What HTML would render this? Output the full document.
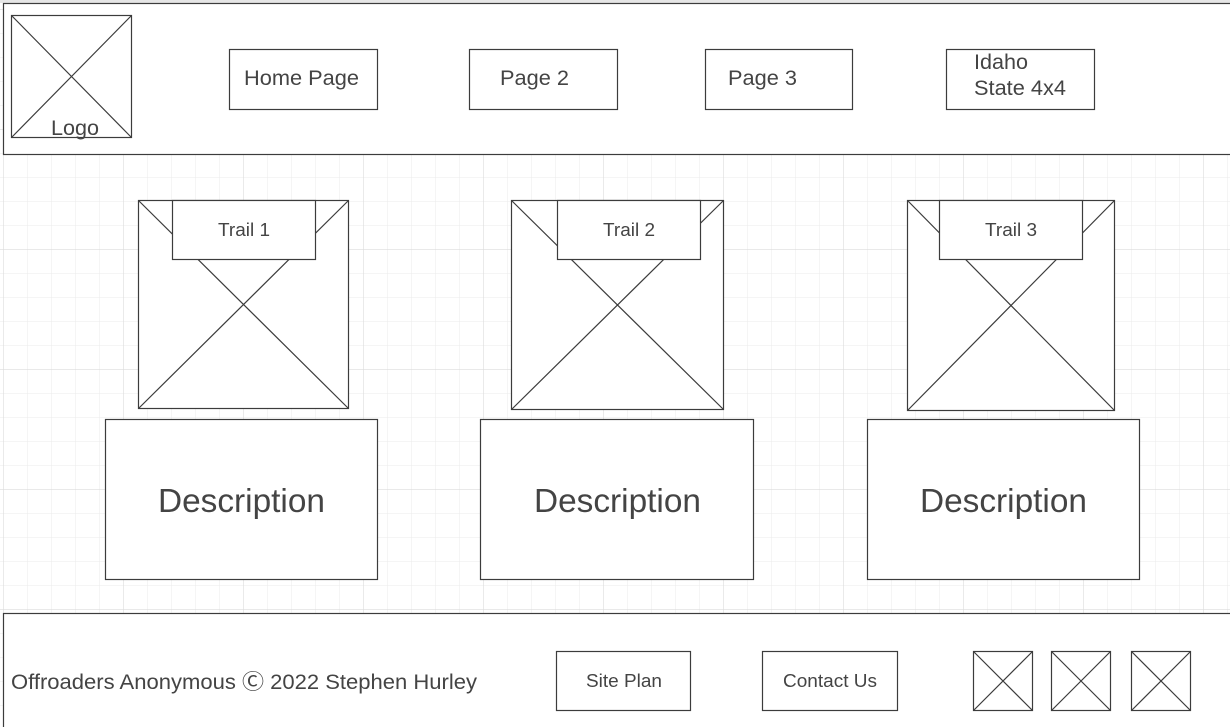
<!DOCTYPE html>
<html><head><meta charset="utf-8"><style>
html,body{margin:0;padding:0;background:#fff;}
svg{display:block;font-family:"Liberation Sans",sans-serif;}
</style></head><body>
<svg width="1230" height="727" viewBox="0 0 1230 727" xmlns="http://www.w3.org/2000/svg">
<defs>
<pattern id="minor" x="3" y="9" width="24" height="24" patternUnits="userSpaceOnUse">
<path d="M0 0H24M0 0V24" stroke="#ebebeb" stroke-width="1" fill="none"/>
</pattern>
<pattern id="major" x="3" y="9" width="120" height="120" patternUnits="userSpaceOnUse">
<path d="M0 0H120M0 0V120" stroke="#dcdcdc" stroke-width="1.2" fill="none"/>
</pattern>
</defs>
<rect width="1230" height="727" fill="#fff"/>
<rect width="1230" height="727" fill="url(#minor)"/>
<rect width="1230" height="727" fill="url(#major)"/>
<rect width="1230" height="3" fill="#e6e6e6"/>
<g stroke="#3c3c3c" stroke-width="1.2" fill="#fff">
<rect x="3.5" y="3.5" width="1240" height="151"/>
<rect x="3.5" y="613.5" width="1240" height="130"/>
<rect x="11.5" y="15.5" width="120" height="122"/>
<path d="M11.5 15.5L131.5 137.5M131.5 15.5L11.5 137.5" fill="none"/>
<rect x="229.5" y="49.5" width="148" height="60"/>
<rect x="469.5" y="49.5" width="148" height="60"/>
<rect x="705.5" y="49.5" width="147" height="60"/>
<rect x="946.5" y="49.5" width="148" height="60"/>
<rect x="138.5" y="200.5" width="210" height="208"/>
<path d="M138.5 200.5L348.5 408.5M348.5 200.5L138.5 408.5" fill="none"/>
<rect x="172.5" y="200.5" width="143" height="59"/>
<rect x="511.5" y="200.5" width="212" height="209"/>
<path d="M511.5 200.5L723.5 409.5M723.5 200.5L511.5 409.5" fill="none"/>
<rect x="557.5" y="200.5" width="143" height="59"/>
<rect x="907.5" y="200.5" width="207" height="210"/>
<path d="M907.5 200.5L1114.5 410.5M1114.5 200.5L907.5 410.5" fill="none"/>
<rect x="939.5" y="200.5" width="143" height="59"/>
<rect x="105.5" y="419.5" width="272" height="160"/>
<rect x="480.5" y="419.5" width="273" height="160"/>
<rect x="867.5" y="419.5" width="272" height="160"/>
<rect x="556.5" y="651.5" width="134" height="59"/>
<rect x="762.5" y="651.5" width="135" height="59"/>
<rect x="973.5" y="651.5" width="59" height="59"/>
<path d="M973.5 651.5L1032.5 710.5M1032.5 651.5L973.5 710.5" fill="none"/>
<rect x="1051.5" y="651.5" width="59" height="59"/>
<path d="M1051.5 651.5L1110.5 710.5M1110.5 651.5L1051.5 710.5" fill="none"/>
<rect x="1131.5" y="651.5" width="59" height="59"/>
<path d="M1131.5 651.5L1190.5 710.5M1190.5 651.5L1131.5 710.5" fill="none"/>
</g>
<g fill="#444">
<text x="51" y="135" font-size="21" textLength="48" lengthAdjust="spacingAndGlyphs">Logo</text>
<text x="244" y="85" font-size="21" textLength="115" lengthAdjust="spacingAndGlyphs">Home Page</text>
<text x="500" y="85" font-size="21" textLength="69" lengthAdjust="spacingAndGlyphs">Page 2</text>
<text x="728" y="85" font-size="21" textLength="69" lengthAdjust="spacingAndGlyphs">Page 3</text>
<text x="974" y="69" font-size="21" textLength="54" lengthAdjust="spacingAndGlyphs">Idaho</text>
<text x="974" y="95" font-size="21" textLength="92" lengthAdjust="spacingAndGlyphs">State 4x4</text>
<text x="218" y="236" font-size="18" textLength="52" lengthAdjust="spacingAndGlyphs">Trail 1</text>
<text x="603" y="236" font-size="18" textLength="52" lengthAdjust="spacingAndGlyphs">Trail 2</text>
<text x="985" y="236" font-size="18" textLength="52" lengthAdjust="spacingAndGlyphs">Trail 3</text>
<text x="158" y="512" font-size="33" textLength="167" lengthAdjust="spacingAndGlyphs">Description</text>
<text x="534" y="512" font-size="33" textLength="167" lengthAdjust="spacingAndGlyphs">Description</text>
<text x="920" y="512" font-size="33" textLength="167" lengthAdjust="spacingAndGlyphs">Description</text>
<text x="11" y="689" font-size="21" textLength="466" lengthAdjust="spacingAndGlyphs">Offroaders Anonymous Ⓒ 2022 Stephen Hurley</text>
<text x="586" y="687" font-size="18" textLength="76" lengthAdjust="spacingAndGlyphs">Site Plan</text>
<text x="783" y="687" font-size="18" textLength="94" lengthAdjust="spacingAndGlyphs">Contact Us</text>
</g>
</svg>
</body></html>
